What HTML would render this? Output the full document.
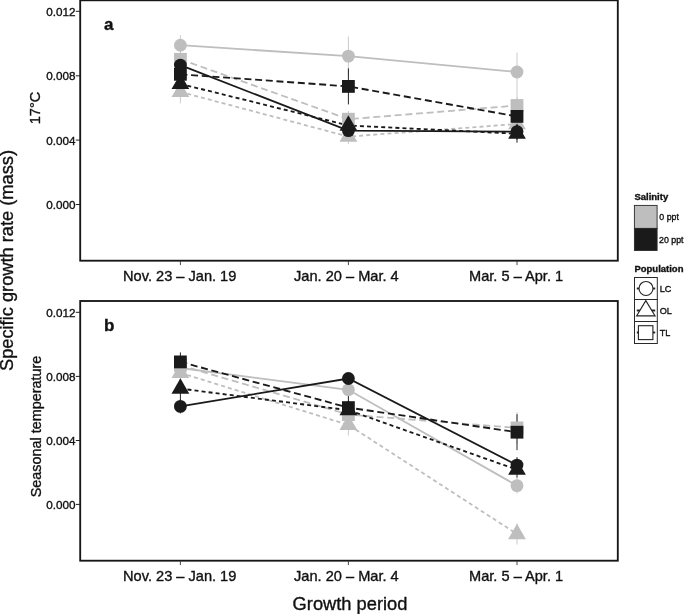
<!DOCTYPE html>
<html><head><meta charset="utf-8"><title>Specific growth rate</title>
<style>html,body{margin:0;padding:0;background:#fff}svg{display:block;will-change:transform}text{stroke:#111;stroke-width:.35px}</style></head>
<body>
<svg width="685" height="614" viewBox="0 0 685 614" font-family="Liberation Sans, Arial, Helvetica, sans-serif" fill="#111">
<rect width="685" height="614" fill="#fff"/>
<g id="top">
<line x1="180.4" x2="180.4" y1="35.2" y2="55.2" stroke="#bebebe" stroke-width="0.7999999999999999"/>
<line x1="348.4" x2="348.4" y1="36.6" y2="75.6" stroke="#bebebe" stroke-width="0.7999999999999999"/>
<line x1="517.0" x2="517.0" y1="52.5" y2="99.0" stroke="#bebebe" stroke-width="0.7999999999999999"/>
<line x1="180.4" x2="180.4" y1="80.4" y2="103.4" stroke="#bebebe" stroke-width="0.7999999999999999"/>
<line x1="348.4" x2="348.4" y1="129.1" y2="144.1" stroke="#bebebe" stroke-width="0.7999999999999999"/>
<line x1="517.0" x2="517.0" y1="116.0" y2="132.0" stroke="#bebebe" stroke-width="0.7999999999999999"/>
<line x1="180.4" x2="180.4" y1="51.3" y2="67.3" stroke="#bebebe" stroke-width="0.7999999999999999"/>
<line x1="348.4" x2="348.4" y1="111.2" y2="127.2" stroke="#bebebe" stroke-width="0.7999999999999999"/>
<line x1="517.0" x2="517.0" y1="97.5" y2="113.5" stroke="#bebebe" stroke-width="0.7999999999999999"/>
<line x1="180.4" x2="180.4" y1="59.1" y2="71.1" stroke="#1a1a1a" stroke-width="0.95"/>
<line x1="348.4" x2="348.4" y1="124.7" y2="136.7" stroke="#1a1a1a" stroke-width="0.95"/>
<line x1="517.0" x2="517.0" y1="123.6" y2="139.6" stroke="#1a1a1a" stroke-width="0.95"/>
<line x1="180.4" x2="180.4" y1="76.9" y2="90.9" stroke="#1a1a1a" stroke-width="0.95"/>
<line x1="348.4" x2="348.4" y1="118.5" y2="132.5" stroke="#1a1a1a" stroke-width="0.95"/>
<line x1="517.0" x2="517.0" y1="124.7" y2="142.7" stroke="#1a1a1a" stroke-width="0.95"/>
<line x1="180.4" x2="180.4" y1="66.3" y2="82.3" stroke="#1a1a1a" stroke-width="0.95"/>
<line x1="348.4" x2="348.4" y1="68.4" y2="104.4" stroke="#1a1a1a" stroke-width="0.95"/>
<line x1="517.0" x2="517.0" y1="108.4" y2="124.4" stroke="#1a1a1a" stroke-width="0.95"/>
<polyline points="180.4,45.2 348.4,56.1 517.0,72.0" fill="none" stroke="#bebebe" stroke-width="1.8"/>
<polyline points="180.4,91.9 348.4,136.6 517.0,124.0" fill="none" stroke="#bebebe" stroke-width="1.8" stroke-dasharray="4 3.1"/>
<polyline points="180.4,59.3 348.4,119.2 517.0,105.5" fill="none" stroke="#bebebe" stroke-width="1.8" stroke-dasharray="7 3.7"/>
<polyline points="180.4,65.1 348.4,130.7 517.0,131.6" fill="none" stroke="#1a1a1a" stroke-width="1.85"/>
<polyline points="180.4,83.9 348.4,125.5 517.0,133.7" fill="none" stroke="#1a1a1a" stroke-width="1.85" stroke-dasharray="4 3.1"/>
<polyline points="180.4,74.3 348.4,86.4 517.0,116.4" fill="none" stroke="#1a1a1a" stroke-width="1.85" stroke-dasharray="7 3.7"/>
<circle cx="180.4" cy="45.2" r="6.4" fill="#bebebe"/>
<circle cx="348.4" cy="56.1" r="6.4" fill="#bebebe"/>
<circle cx="517.0" cy="72.0" r="6.4" fill="#bebebe"/>
<polygon points="180.40,81.64 189.29,97.03 171.51,97.03" fill="#bebebe"/>
<polygon points="348.40,126.34 357.29,141.73 339.51,141.73" fill="#bebebe"/>
<polygon points="517.00,113.74 525.89,129.13 508.11,129.13" fill="#bebebe"/>
<rect x="174.00" y="52.90" width="12.8" height="12.8" fill="#bebebe"/>
<rect x="342.00" y="112.80" width="12.8" height="12.8" fill="#bebebe"/>
<rect x="510.60" y="99.10" width="12.8" height="12.8" fill="#bebebe"/>
<circle cx="180.4" cy="65.1" r="6.4" fill="#1a1a1a"/>
<circle cx="348.4" cy="130.7" r="6.4" fill="#1a1a1a"/>
<circle cx="517.0" cy="131.6" r="6.4" fill="#1a1a1a"/>
<polygon points="180.40,73.64 189.29,89.03 171.51,89.03" fill="#1a1a1a"/>
<polygon points="348.40,115.24 357.29,130.63 339.51,130.63" fill="#1a1a1a"/>
<polygon points="517.00,123.44 525.89,138.83 508.11,138.83" fill="#1a1a1a"/>
<rect x="174.00" y="67.90" width="12.8" height="12.8" fill="#1a1a1a"/>
<rect x="342.00" y="80.00" width="12.8" height="12.8" fill="#1a1a1a"/>
<rect x="510.60" y="110.00" width="12.8" height="12.8" fill="#1a1a1a"/>
</g>
<g id="bot">
<line x1="180.4" x2="180.4" y1="360.0" y2="376.0" stroke="#bebebe" stroke-width="0.7999999999999999"/>
<line x1="348.4" x2="348.4" y1="381.8" y2="397.8" stroke="#bebebe" stroke-width="0.7999999999999999"/>
<line x1="517.0" x2="517.0" y1="477.6" y2="493.6" stroke="#bebebe" stroke-width="0.7999999999999999"/>
<line x1="180.4" x2="180.4" y1="364.9" y2="380.9" stroke="#bebebe" stroke-width="0.7999999999999999"/>
<line x1="348.4" x2="348.4" y1="414.4" y2="435.4" stroke="#bebebe" stroke-width="0.7999999999999999"/>
<line x1="517.0" x2="517.0" y1="523.5" y2="544.5" stroke="#bebebe" stroke-width="0.7999999999999999"/>
<line x1="180.4" x2="180.4" y1="357.3" y2="373.3" stroke="#bebebe" stroke-width="0.7999999999999999"/>
<line x1="348.4" x2="348.4" y1="406.1" y2="423.1" stroke="#bebebe" stroke-width="0.7999999999999999"/>
<line x1="517.0" x2="517.0" y1="411.9" y2="443.9" stroke="#bebebe" stroke-width="0.7999999999999999"/>
<line x1="180.4" x2="180.4" y1="399.4" y2="413.4" stroke="#1a1a1a" stroke-width="0.95"/>
<line x1="348.4" x2="348.4" y1="373.0" y2="385.5" stroke="#1a1a1a" stroke-width="0.95"/>
<line x1="517.0" x2="517.0" y1="457.1" y2="473.1" stroke="#1a1a1a" stroke-width="0.95"/>
<line x1="180.4" x2="180.4" y1="381.6" y2="400.6" stroke="#1a1a1a" stroke-width="0.95"/>
<line x1="348.4" x2="348.4" y1="403.2" y2="417.2" stroke="#1a1a1a" stroke-width="0.95"/>
<line x1="517.0" x2="517.0" y1="461.7" y2="477.7" stroke="#1a1a1a" stroke-width="0.95"/>
<line x1="180.4" x2="180.4" y1="352.4" y2="371.4" stroke="#1a1a1a" stroke-width="0.95"/>
<line x1="348.4" x2="348.4" y1="393.6" y2="421.6" stroke="#1a1a1a" stroke-width="0.95"/>
<line x1="517.0" x2="517.0" y1="414.2" y2="450.2" stroke="#1a1a1a" stroke-width="0.95"/>
<polyline points="180.4,368.0 348.4,389.8 517.0,485.6" fill="none" stroke="#bebebe" stroke-width="1.8"/>
<polyline points="180.4,372.9 348.4,424.9 517.0,534.0" fill="none" stroke="#bebebe" stroke-width="1.8" stroke-dasharray="4 3.1"/>
<polyline points="180.4,365.3 348.4,414.6 517.0,427.9" fill="none" stroke="#bebebe" stroke-width="1.8" stroke-dasharray="7 3.7"/>
<polyline points="180.4,406.4 348.4,378.5 517.0,465.1" fill="none" stroke="#1a1a1a" stroke-width="1.85"/>
<polyline points="180.4,388.6 348.4,410.2 517.0,469.7" fill="none" stroke="#1a1a1a" stroke-width="1.85" stroke-dasharray="4 3.1"/>
<polyline points="180.4,361.9 348.4,407.6 517.0,432.2" fill="none" stroke="#1a1a1a" stroke-width="1.85" stroke-dasharray="7 3.7"/>
<circle cx="180.4" cy="368.0" r="6.4" fill="#bebebe"/>
<circle cx="348.4" cy="389.8" r="6.4" fill="#bebebe"/>
<circle cx="517.0" cy="485.6" r="6.4" fill="#bebebe"/>
<polygon points="180.40,362.64 189.29,378.03 171.51,378.03" fill="#bebebe"/>
<polygon points="348.40,414.64 357.29,430.03 339.51,430.03" fill="#bebebe"/>
<polygon points="517.00,523.74 525.89,539.13 508.11,539.13" fill="#bebebe"/>
<rect x="174.00" y="358.90" width="12.8" height="12.8" fill="#bebebe"/>
<rect x="342.00" y="408.20" width="12.8" height="12.8" fill="#bebebe"/>
<rect x="510.60" y="421.50" width="12.8" height="12.8" fill="#bebebe"/>
<circle cx="180.4" cy="406.4" r="6.4" fill="#1a1a1a"/>
<circle cx="348.4" cy="378.5" r="6.4" fill="#1a1a1a"/>
<circle cx="517.0" cy="465.1" r="6.4" fill="#1a1a1a"/>
<polygon points="180.40,378.34 189.29,393.73 171.51,393.73" fill="#1a1a1a"/>
<polygon points="348.40,399.94 357.29,415.33 339.51,415.33" fill="#1a1a1a"/>
<polygon points="517.00,459.44 525.89,474.83 508.11,474.83" fill="#1a1a1a"/>
<rect x="174.00" y="355.50" width="12.8" height="12.8" fill="#1a1a1a"/>
<rect x="342.00" y="401.20" width="12.8" height="12.8" fill="#1a1a1a"/>
<rect x="510.60" y="425.80" width="12.8" height="12.8" fill="#1a1a1a"/>
</g>
<rect x="80.2" y="0.3" width="537.5999999999999" height="260.4" fill="none" stroke="#161616" stroke-width="1.85"/>
<line x1="180.4" x2="180.4" y1="260.7" y2="265.09999999999997" stroke="#333" stroke-width="0.9"/>
<line x1="348.4" x2="348.4" y1="260.7" y2="265.09999999999997" stroke="#333" stroke-width="0.9"/>
<line x1="517.0" x2="517.0" y1="260.7" y2="265.09999999999997" stroke="#333" stroke-width="0.9"/>
<rect x="80.2" y="301.0" width="537.5999999999999" height="259.70000000000005" fill="none" stroke="#161616" stroke-width="1.85"/>
<line x1="180.4" x2="180.4" y1="560.7" y2="565.1" stroke="#333" stroke-width="0.9"/>
<line x1="348.4" x2="348.4" y1="560.7" y2="565.1" stroke="#333" stroke-width="0.9"/>
<line x1="517.0" x2="517.0" y1="560.7" y2="565.1" stroke="#333" stroke-width="0.9"/>
<line x1="75.8" x2="80.2" y1="11.3" y2="11.3" stroke="#222" stroke-width="1"/>
<text x="75.6" y="15.8" font-size="11.7" text-anchor="end">0.012</text>
<line x1="75.8" x2="80.2" y1="75.8" y2="75.8" stroke="#222" stroke-width="1"/>
<text x="75.6" y="80.3" font-size="11.7" text-anchor="end">0.008</text>
<line x1="75.8" x2="80.2" y1="140.1" y2="140.1" stroke="#222" stroke-width="1"/>
<text x="75.6" y="144.6" font-size="11.7" text-anchor="end">0.004</text>
<line x1="75.8" x2="80.2" y1="204.5" y2="204.5" stroke="#222" stroke-width="1"/>
<text x="75.6" y="209.0" font-size="11.7" text-anchor="end">0.000</text>
<line x1="75.8" x2="80.2" y1="312.3" y2="312.3" stroke="#222" stroke-width="1"/>
<text x="75.6" y="316.8" font-size="11.7" text-anchor="end">0.012</text>
<line x1="75.8" x2="80.2" y1="376.4" y2="376.4" stroke="#222" stroke-width="1"/>
<text x="75.6" y="380.9" font-size="11.7" text-anchor="end">0.008</text>
<line x1="75.8" x2="80.2" y1="440.5" y2="440.5" stroke="#222" stroke-width="1"/>
<text x="75.6" y="445.0" font-size="11.7" text-anchor="end">0.004</text>
<line x1="75.8" x2="80.2" y1="504.4" y2="504.4" stroke="#222" stroke-width="1"/>
<text x="75.6" y="508.9" font-size="11.7" text-anchor="end">0.000</text>
<text x="179.7" y="281.0" font-size="14.6" text-anchor="middle">Nov. 23 – Jan. 19</text>
<text x="346.4" y="281.0" font-size="14.6" text-anchor="middle">Jan. 20 – Mar. 4</text>
<text x="516.1" y="281.0" font-size="14.6" text-anchor="middle">Mar. 5 – Apr. 1</text>
<text x="179.7" y="581.0" font-size="14.6" text-anchor="middle">Nov. 23 – Jan. 19</text>
<text x="346.4" y="581.0" font-size="14.6" text-anchor="middle">Jan. 20 – Mar. 4</text>
<text x="516.1" y="581.0" font-size="14.6" text-anchor="middle">Mar. 5 – Apr. 1</text>
<text x="350" y="610.4" font-size="18.3" text-anchor="middle">Growth period</text>
<text transform="translate(13.2,260.5) rotate(-90)" font-size="18.25" text-anchor="middle">Specific growth rate (mass)</text>
<text transform="translate(40.3,108) rotate(-90)" font-size="14.6" text-anchor="middle">17°C</text>
<text transform="translate(41.0,426.5) rotate(-90)" font-size="14.4" text-anchor="middle">Seasonal temperature</text>
<text x="104" y="30.2" font-size="17" font-weight="bold">a</text>
<text x="104" y="330.6" font-size="17" font-weight="bold">b</text>
<text x="634.4" y="200.2" font-size="9.5" font-weight="bold">Salinity</text>
<rect x="634.4" y="205.4" width="22.7" height="23.0" fill="#bebebe" stroke="#2a2a2a" stroke-width="0.9"/>
<rect x="634.4" y="228.4" width="22.7" height="22.1" fill="#1a1a1a" stroke="#2a2a2a" stroke-width="0.9"/>
<text x="659.3" y="220.2" font-size="8.8">0 ppt</text>
<text x="659.1" y="242.6" font-size="8.8">20 ppt</text>
<text x="634.4" y="271.5" font-size="9.5" font-weight="bold">Population</text>
<rect x="634.5" y="277.50" width="22.8" height="22.0" fill="#fff" stroke="#2a2a2a" stroke-width="1"/>
<line x1="636.8" x2="655.2" y1="288.50" y2="288.50" stroke="#222" stroke-width="1.9"/>
<text x="659.8" y="291.7" font-size="9.1">LC</text>
<rect x="634.5" y="299.50" width="22.8" height="22.0" fill="#fff" stroke="#2a2a2a" stroke-width="1"/>
<line x1="636.8" x2="655.2" y1="310.50" y2="310.50" stroke="#222" stroke-width="1.9"/>
<text x="659.8" y="313.7" font-size="9.1">OL</text>
<rect x="634.5" y="321.50" width="22.8" height="22.0" fill="#fff" stroke="#2a2a2a" stroke-width="1"/>
<line x1="636.8" x2="655.2" y1="332.50" y2="332.50" stroke="#222" stroke-width="1.9"/>
<text x="659.8" y="335.7" font-size="9.1">TL</text>
<circle cx="646" cy="288.45" r="7.0" fill="#fff" stroke="#222" stroke-width="1.1"/>
<polygon points="645.8,300.6 655.1,315.9 636.6,315.9" fill="#fff" stroke="#222" stroke-width="1.1"/>
<rect x="638.4" y="325.7" width="14.5" height="13.9" fill="#fff" stroke="#222" stroke-width="1.1"/>
</svg>
</body></html>
